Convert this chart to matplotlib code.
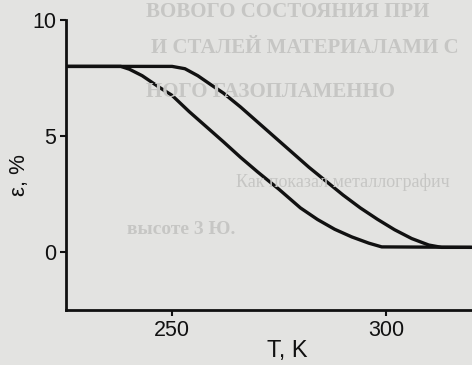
import numpy as np
import matplotlib.pyplot as plt

# temperature, K and strain, %
T1 = [225, 238, 240, 243, 247, 250, 254, 258, 262, 266, 270, 275, 280, 284, 288, 292, 296, 299, 320]
eps1 = [8.0, 8.0, 7.88, 7.6, 7.1, 6.75, 6.05, 5.4, 4.75, 4.08, 3.45, 2.7, 1.9, 1.4, 0.98, 0.65, 0.38, 0.22, 0.2]

T2 = [225, 250, 253, 256, 259, 262, 266, 270, 274, 278, 282, 286, 290, 294, 298, 302, 306, 310, 313, 320]
eps2 = [8.0, 8.0, 7.9, 7.6, 7.22, 6.85, 6.25, 5.6, 4.95, 4.3, 3.65, 3.05, 2.45, 1.9, 1.41, 0.96, 0.58, 0.3, 0.2, 0.2]

xticks = [250, 300]
yticks = [0, 5, 10]

plt.rcParams['font.family'] = ['Liberation Sans', 'DejaVu Sans']

fig = plt.figure(figsize=(4.72, 3.65), dpi=100)
fig.patch.set_facecolor('#e3e3e1')

# faint bleed-through text of the scanned page
ghost = '#c6c6c4'
serif = 'Liberation Serif'
fig.text(0.31, 0.995, 'ВОВОГО СОСТОЯНИЯ ПРИ', color=ghost, fontsize=15, family=serif, weight='bold', va='top')
fig.text(0.32, 0.895, 'И СТАЛЕЙ МАТЕРИАЛАМИ С', color=ghost, fontsize=15, family=serif, weight='bold', va='top')
fig.text(0.31, 0.775, 'НОГО ГАЗОПЛАМЕННО', color=ghost, fontsize=15, family=serif, weight='bold', va='top')
fig.text(0.50, 0.525, 'Как показал металлографич', color=ghost, fontsize=13, family=serif, va='top')
fig.text(0.27, 0.395, 'высоте 3 Ю.', color=ghost, fontsize=14, family=serif, weight='bold', va='top')

ax = fig.add_axes([0.1398, 0.1507, 0.8602, 0.7945])
ax.patch.set_alpha(0)

ax.plot(T1, eps1, color='#111111', lw=2.4, solid_joinstyle='round', solid_capstyle='round')
ax.plot(T2, eps2, color='#111111', lw=2.4, solid_joinstyle='round', solid_capstyle='round')

ax.set_xlim(225.2, 320.1)
ax.set_ylim(-2.5, 10)
ax.set_xticks(xticks)
ax.set_yticks(yticks)
ax.tick_params(direction='out', length=4, width=1.5, labelsize=15.5, colors='#111111', pad=3)

for s in ['top', 'right']:
    ax.spines[s].set_visible(False)
for s in ['left', 'bottom']:
    ax.spines[s].set_linewidth(2)
    ax.spines[s].set_color('#111111')

ax.set_xlabel('T, K', fontsize=17, color='#111111')
ax.xaxis.set_label_coords(0.544, -0.105)
ax.set_ylabel('ε, %', fontsize=16, color='#111111')
ax.yaxis.set_label_coords(-0.089, 0.466)

fig.savefig('out.png', dpi=100, facecolor=fig.get_facecolor())
